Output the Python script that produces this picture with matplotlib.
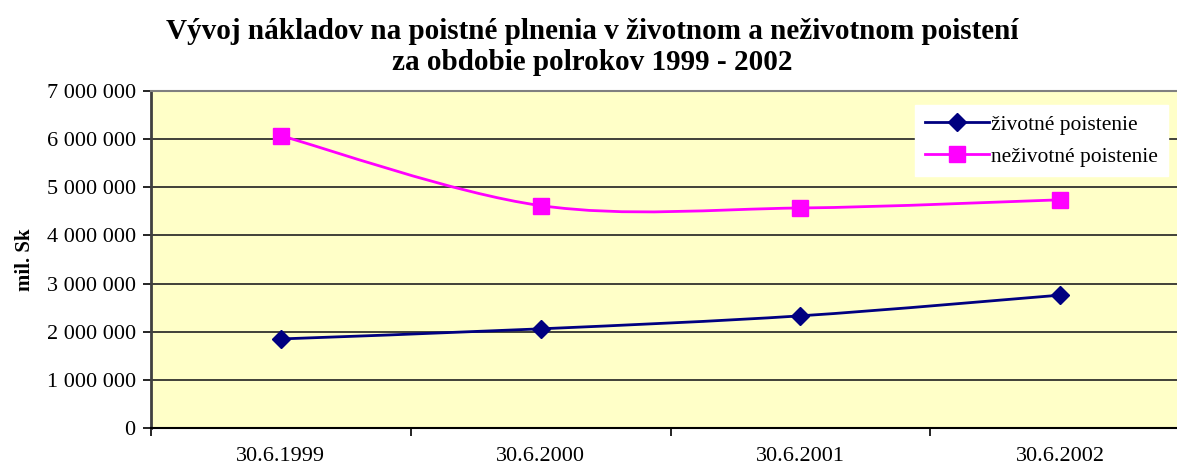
import matplotlib
matplotlib.use("Agg")
import matplotlib.pyplot as plt
import numpy as np
from matplotlib.path import Path
from matplotlib.patches import PathPatch
from matplotlib.lines import Line2D
from matplotlib.ticker import FuncFormatter

# data (mil. Sk)
dates = ["30.6.1999", "30.6.2000", "30.6.2001", "30.6.2002"]
zivotne = [1850000, 2060000, 2330000, 2760000]
nezivotne = [6070000, 4620000, 4570000, 4740000]

plt.rcParams['font.family'] = ['Liberation Serif', 'DejaVu Serif']

fig = plt.figure(figsize=(11.77, 4.69), dpi=100)
W, H = 1177, 469
ax = fig.add_axes([151 / W, 41 / H, (1190 - 151) / W, (428 - 91) / H])
ax.set_facecolor('#FFFFC8')


# excel-like smoothed line: cubic bezier segments through the points
def smooth_path(xs, ys):
    pts = np.column_stack([xs, ys]).astype(float)
    n = len(pts)
    verts = [pts[0]]
    codes = [Path.MOVETO]
    for i in range(n - 1):
        p0 = pts[i - 1] if i > 0 else pts[i]
        p1 = pts[i]
        p2 = pts[i + 1]
        p3 = pts[i + 2] if i + 2 < n else pts[i + 1]
        c1 = p1 + (p2 - p0) / 6.0
        c2 = p2 - (p3 - p1) / 6.0
        verts += [c1, c2, p2]
        codes += [Path.CURVE4] * 3
    return Path(verts, codes)


x = np.arange(len(dates))
series = [
    (zivotne, '#000080', 'D', 9, "životné poistenie"),
    (nezivotne, '#FF00FF', 's', 11, "neživotné poistenie"),
]
handles = []
for vals, col, mk, ms, lab in series:
    ax.add_patch(PathPatch(smooth_path(x, vals), fill=False, edgecolor=col,
                           lw=2, zorder=3))
    ax.plot(x, vals, linestyle='none', marker=mk, ms=ms, color=col, zorder=4)
    handles.append(Line2D([], [], color=col, lw=2, marker=mk, ms=ms))

ax.set_xlim(-0.5, 3.5)
ax.set_ylim(0, 7000000)
ax.set_yticks(np.arange(0, 7000001, 1000000))
ax.yaxis.set_major_formatter(FuncFormatter(lambda v, p: f"{int(v):,}".replace(",", " ")))
ax.grid(axis='y', color='#202020', lw=1.2)
ax.set_axisbelow(True)

ax.set_xticks([-0.5, 0.5, 1.5, 2.5, 3.5])
ax.set_xticklabels([])
ax.set_xticks(x, minor=True)
ax.set_xticklabels(dates, minor=True)
ax.tick_params(axis='x', which='minor', length=0, pad=14, labelsize=16)
ax.tick_params(axis='x', which='major', length=6, width=1.2, color='black')
ax.tick_params(axis='y', length=6, width=1.2, labelsize=16, pad=5)

ax.spines['left'].set_color('#404040')
ax.spines['left'].set_linewidth(2)
ax.spines['bottom'].set_color('black')
ax.spines['bottom'].set_linewidth(1.5)
ax.spines['top'].set_color('#808080')
ax.spines['top'].set_linewidth(1.5)
ax.spines['right'].set_visible(False)

ax.set_ylabel("mil. Sk", fontsize=15, fontweight='bold', labelpad=8)

leg = ax.legend(handles, [s[4] for s in series], loc='upper right',
                bbox_to_anchor=((1168 - 151) / (1190 - 151), (428 - 105) / (428 - 91)),
                fontsize=15.5, frameon=True, fancybox=False, edgecolor='white',
                facecolor='white', framealpha=1, handlelength=3.0,
                handletextpad=0.1, borderpad=0.45, labelspacing=0.55,
                borderaxespad=0)

fig.text(592 / W, 1 - 47 / H,
         "Vývoj nákladov na poistné plnenia v životnom a neživotnom poistení\nza obdobie polrokov 1999 - 2002",
         ha='center', va='center', fontsize=21, fontweight='bold', linespacing=1.2)

fig.savefig("out.png", dpi=100)
